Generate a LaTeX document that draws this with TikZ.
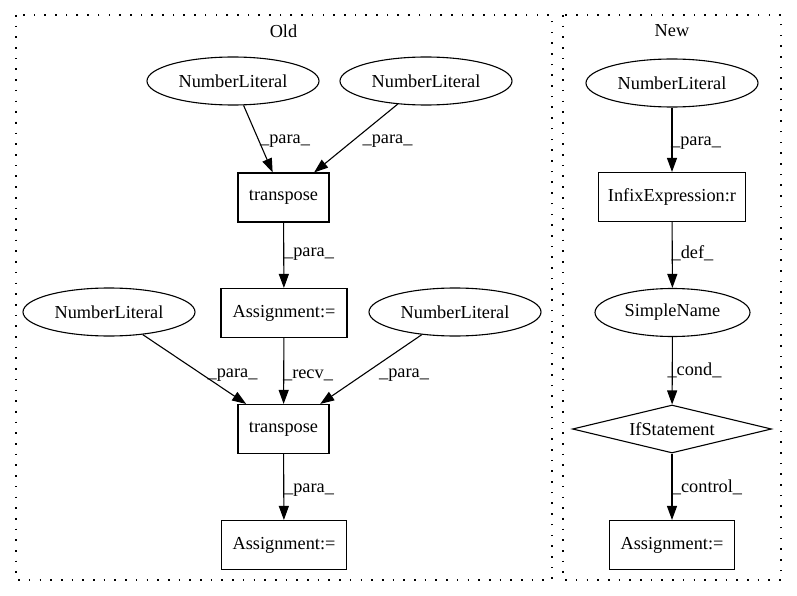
\documentclass[tikz,border=0pt]{standalone}
\usepackage{fontspec}
\setmainfont{Liberation Serif}
\usetikzlibrary{shapes.geometric,arrows.meta}
\begin{document}
\begin{tikzpicture}[x=1pt,y=-1pt,
  every node/.style={font=\fontsize{18.3}{21}\selectfont, inner sep=0pt},
  ell/.style={draw, ellipse, line width=1.1pt, minimum width=172pt, minimum height=48pt},
  box/.style={draw, rectangle, line width=1.1pt, minimum height=49pt},
  dia/.style={draw, diamond, aspect=4.15, line width=1.1pt, minimum width=199pt, minimum height=48pt},
  edge/.style={line width=1.1pt, -{Triangle[length=14pt,width=10pt]}},
  lbl/.style={anchor=center},
  cluster/.style={line width=1.3pt, dash pattern=on 1.6pt off 9.1pt}]
\useasboundingbox (0,0) rectangle (797,596);
% clusters
\draw[cluster] (16,15) rectangle (552,580);
\draw[cluster] (563,15) rectangle (781,580);
\node (oldlbl) at (283.5,31) {Old};
\node (newlbl) at (672,31) {New};
% Old nodes
\node[ell] (nl1) at (233,81) {NumberLiteral};
\node[ell] (nl2) at (426,81) {NumberLiteral};
\node[box, minimum width=91pt] (t1) at (283.5,197.5) {transpose};
\node[box, minimum width=126pt] (a1) at (284,313) {Assignment:=};
\node[ell] (nl3) at (109,312) {NumberLiteral};
\node[ell] (nl4) at (455,312) {NumberLiteral};
\node[box, minimum width=91pt] (t2) at (283.5,429) {transpose};
\node[box, minimum width=125pt] (a2) at (284,545) {Assignment:=};
% New nodes
\node[ell] (nln) at (672,83) {NumberLiteral};
\node[box, minimum width=147pt] (inf) at (672,197) {InfixExpression:r};
\node[ell, minimum width=155pt] (sn) at (672.5,312.5) {SimpleName};
\node[dia] (ifs) at (672,429) {IfStatement};
\node[box, minimum width=125pt] (an) at (672,545) {Assignment:=};
% Old edges
\draw[edge] (nl1) -- (t1);
\node[lbl] (l1) at (285,141) {\_para\_};
\draw[edge] (nl2) -- (t1);
\node[lbl] (l2) at (387.5,141) {\_para\_};
\draw[edge] (t1) -- (a1);
\node[lbl] (l3) at (309,254) {\_para\_};
\draw[edge] (nl3) -- (t2);
\node[lbl] (l4) at (232.5,375) {\_para\_};
\draw[edge] (a1) -- (t2);
\node[lbl] (l5) at (308,375) {\_recv\_};
\draw[edge] (nl4) -- (t2);
\node[lbl] (l6) at (404,375) {\_para\_};
\draw[edge] (t2) -- (a2);
\node[lbl] (l7) at (309,490) {\_para\_};
% New edges
\draw[edge] (nln) -- (inf);
\node[lbl] (l8) at (696,143) {\_para\_};
\draw[edge] (inf) -- (sn);
\node[lbl] (l9) at (692.5,253) {\_def\_};
\draw[edge] (sn) -- (ifs);
\node[lbl] (l10) at (694.5,370) {\_cond\_};
\draw[edge] (ifs) -- (an);
\node[lbl] (l11) at (707,487) {\_control\_};
\end{tikzpicture}
\end{document}
